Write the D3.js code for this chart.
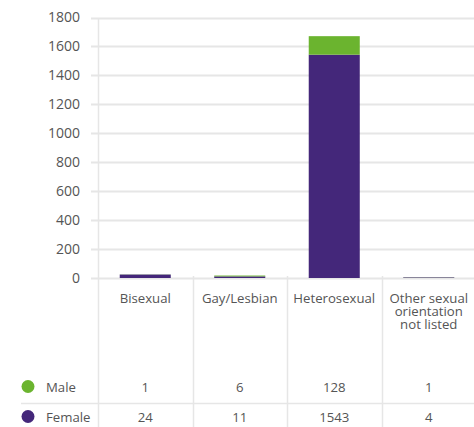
<!DOCTYPE html>
<html>
<head>
<meta charset="utf-8">
<script src="https://cdn.jsdelivr.net/npm/d3@7"></script>
<style>
  body { margin: 0; background: #fff; }
  svg { display: block; font-family: "Open Sans", sans-serif; }
</style>
</head>
<body>
<div id="chart"></div>
<script>
// categories and series
const categories = ["Bisexual", "Gay/Lesbian", "Heterosexual", "Other sexual orientation not listed"]
const categoryLines = [["Bisexual"], ["Gay/Lesbian"], ["Heterosexual"], ["Other sexual", "orientation", "not listed"]]
const male = [1, 6, 128, 1]
const female = [24, 11, 1543, 4]
const yTicks = [0, 200, 400, 600, 800, 1000, 1200, 1400, 1600, 1800]

const series = [
  { name: "Male", values: male, color: "#6bb42f" },
  { name: "Female", values: female, color: "#44277a" }
]

const width = 474, height = 427
const grid = "#e6e6e6", textColor = "#555"

const svg = d3.select("#chart").append("svg")
    .attr("width", width)
    .attr("height", height)

const x = d3.scaleBand()
    .domain(categories)
    .range([98, 476])
    .paddingInner(0)
    .paddingOuter(0)

const y = d3.scaleLinear()
    .domain([0, 1800])
    .range([278, 17.5])

// horizontal gridlines + tick labels
svg.append("g").selectAll("line")
    .data(yTicks)
  .enter().append("line")
    .attr("x1", 91).attr("x2", width)
    .attr("y1", d => Math.round(y(d)) + 0.5)
    .attr("y2", d => Math.round(y(d)) + 0.5)
    .attr("stroke", grid).attr("stroke-width", 2)

svg.append("g").selectAll("text")
    .data(yTicks)
  .enter().append("text")
    .attr("x", 80)
    .attr("y", d => y(d))
    .attr("dy", "0.35em")
    .attr("text-anchor", "end")
    .attr("fill", textColor)
    .style("font-size", "14px")
    .text(d => d)

// vertical lines: y axis and column separators
svg.append("line")
    .attr("x1", 98.5).attr("x2", 98.5)
    .attr("y1", 19).attr("y2", height)
    .attr("stroke", grid).attr("stroke-width", 1.5)

svg.append("g").selectAll("line")
    .data(categories.slice(1))
  .enter().append("line")
    .attr("x1", d => Math.round(x(d)) + 0.5)
    .attr("x2", d => Math.round(x(d)) + 0.5)
    .attr("y1", 276).attr("y2", height)
    .attr("stroke", grid).attr("stroke-width", 1.5)

// stacked bars
const rows = categories.map((c, i) => ({ cat: c, Male: male[i], Female: female[i] }))
const stack = d3.stack().keys(["Female", "Male"])(rows)
const colorOf = { Male: series[0].color, Female: series[1].color }
const barW = x.bandwidth() * 0.54

svg.append("g").selectAll("g")
    .data(stack)
  .enter().append("g")
    .attr("fill", d => colorOf[d.key])
  .selectAll("rect")
    .data(d => d)
  .enter().append("rect")
    .attr("x", d => x(d.data.cat) + (x.bandwidth() - barW) / 2)
    .attr("width", barW)
    .attr("y", d => y(d[1]))
    .attr("height", d => Math.max(y(d[0]) - y(d[1]), 0))

// category labels
const catG = svg.append("g").selectAll("text")
    .data(categories)
  .enter().append("text")
    .attr("x", d => x(d) + x.bandwidth() / 2)
    .attr("y", 302.5)
    .attr("text-anchor", "middle")
    .attr("fill", textColor)
    .style("font-size", "13.2px")

catG.selectAll("tspan")
    .data((d, i) => categoryLines[i])
  .enter().append("tspan")
    .attr("x", function() { return this.parentNode.getAttribute("x") })
    .attr("dy", (d, i) => i ? 13 : 0)
    .text(d => d)

// table rows
const rowY = [387, 417]
svg.append("line")
    .attr("x1", 21).attr("x2", width)
    .attr("y1", 403.5).attr("y2", 403.5)
    .attr("stroke", grid).attr("stroke-width", 1.5)

series.forEach((s, r) => {
  const g = svg.append("g")
  g.append("circle")
      .attr("cx", 28).attr("cy", rowY[r] - 0.5)
      .attr("r", 6.5)
      .attr("fill", s.color)
  g.append("text")
      .attr("x", 46).attr("y", rowY[r])
      .attr("dy", "0.35em")
      .attr("fill", textColor)
      .style("font-size", "13.2px")
      .text(s.name)
  g.selectAll("text.v")
      .data(s.values)
    .enter().append("text")
      .attr("class", "v")
      .attr("x", (d, i) => x(categories[i]) + x.bandwidth() / 2)
      .attr("y", rowY[r])
      .attr("dy", "0.35em")
      .attr("text-anchor", "middle")
      .attr("fill", textColor)
      .style("font-size", "13.2px")
      .text(d => d)
})
</script>
</body>
</html>
